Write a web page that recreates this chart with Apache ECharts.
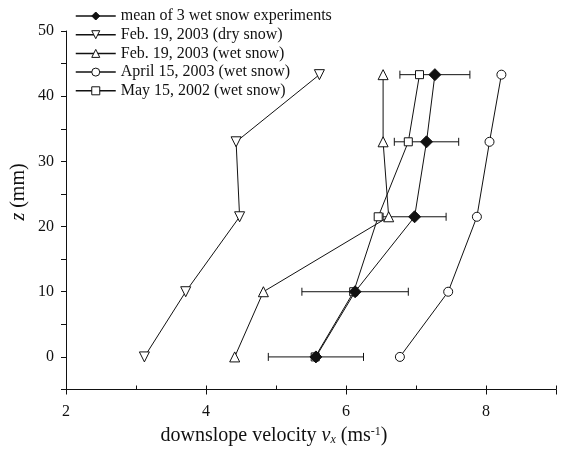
<!DOCTYPE html>
<html>
<head>
<meta charset="utf-8">
<script src="https://cdn.jsdelivr.net/npm/echarts@6/dist/echarts.min.js"></script>
<style>
  html, body { margin: 0; padding: 0; background: #fff; }
  #chart { width: 561px; height: 450px; }
</style>
</head>
<body>
<div id="chart"></div>
<script>
// heights above the bed (mm)
const zLevels = [0, 10, 21.5, 33, 43.3]
// downslope velocity (m/s) per experiment
const meanV = [5.57, 6.13, 6.98, 7.15, 7.27]
const meanErr = [0.68, 0.76, 0.45, 0.46, 0.5]
const febDry = [3.12, 3.71, 4.48, 4.43, 5.62]
const febWet = [4.41, 4.82, 6.61, 6.53, 6.53]
const aprilWet = [6.77, 7.46, 7.87, 8.05, 8.22]
const mayWet = [5.56, 6.11, 6.46, 6.89, 7.05]

const names = [
  'mean of 3 wet snow experiments',
  'Feb. 19, 2003 (dry snow)',
  'Feb. 19, 2003 (wet snow)',
  'April 15, 2003 (wet snow)',
  'May 15, 2002 (wet snow)'
]

const font = 'Liberation Serif'

function pairs (vals) {
  return vals.map((v, i) => [v, zLevels[i]])
}

const errData = meanV.map((v, i) => [v - meanErr[i], v + meanErr[i], zLevels[i]])

function lineSeries (name, vals, symbol, size, filled, rotate) {
  return {
    name: name,
    type: 'line',
    data: pairs(vals),
    symbol: symbol,
    symbolSize: size,
    symbolRotate: rotate || 0,
    showAllSymbol: true,
    z: filled ? 5 : 4,
    lineStyle: { color: '#111', width: 1 },
    itemStyle: { color: filled ? '#111' : '#fff', borderColor: '#111', borderWidth: 1 },
    emphasis: { disabled: true }
  }
}

const myChart = echarts.init(document.getElementById('chart'))
const option = {
  backgroundColor: '#fff',
  animation: false,
  grid: { left: 66, right: 5, top: 31, bottom: 60.5 },
  legend: {
    orient: 'vertical',
    left: 70,
    top: 3,
    itemWidth: 40,
    itemHeight: 10,
    itemGap: 2.7,
    data: names,
    lineStyle: { width: 1.5 },
    itemStyle: { borderWidth: 1 },
    textStyle: { fontFamily: font, fontSize: 16, lineHeight: 16, color: '#111' }
  },
  xAxis: [
    {
      type: 'value',
      min: 2,
      max: 9,
      interval: 2,
      splitLine: { show: false },
      axisLine: { onZero: false, lineStyle: { color: '#111', width: 1 } },
      axisTick: { inside: false, length: 5, lineStyle: { color: '#111' } },
      axisLabel: {
        fontFamily: font, fontSize: 16, color: '#111', margin: 14,
        formatter: v => (v % 2 === 0 ? String(v) : '')
      }
    },
    {
      type: 'value',
      min: 2,
      max: 9,
      interval: 1,
      position: 'bottom',
      splitLine: { show: false },
      axisLine: { show: false, onZero: false },
      axisTick: { inside: true, length: 4, lineStyle: { color: '#111' } },
      axisLabel: { show: false }
    }
  ],
  yAxis: {
    type: 'value',
    min: -5,
    max: 50,
    interval: 5,
    splitLine: { show: false },
    axisLine: { onZero: false, lineStyle: { color: '#111', width: 1 } },
    axisTick: { inside: false, length: 5, lineStyle: { color: '#111' } },
    axisLabel: {
      fontFamily: font, fontSize: 16, color: '#111', margin: 12,
      formatter: v => (v % 10 === 0 ? String(v) : '')
    }
  },
  graphic: [
    {
      type: 'text',
      x: 19,
      y: 192,
      rotation: Math.PI / 2,
      style: {
        text: '{i|z} (mm)',
        font: '20px ' + font,
        fill: '#111',
        align: 'center',
        verticalAlign: 'middle',
        rich: { i: { fontStyle: 'italic', fontFamily: font, fontSize: 20 } }
      }
    },
    {
      type: 'text',
      x: 274,
      y: 436,
      style: {
        text: 'downslope velocity {i|v}{sub|x} (ms{sup|-1})',
        font: '20px ' + font,
        fill: '#111',
        align: 'center',
        verticalAlign: 'middle',
        rich: {
          i: { fontStyle: 'italic', fontFamily: font, fontSize: 20 },
          sub: { fontStyle: 'italic', fontFamily: font, fontSize: 12, verticalAlign: 'bottom', padding: [8, 0, 0, 0] },
          sup: { fontFamily: font, fontSize: 12, verticalAlign: 'top', padding: [0, 0, 8, 0] }
        }
      }
    }
  ],
  series: [
    {
      name: 'errors',
      type: 'custom',
      data: errData,
      z: 3,
      silent: true,
      renderItem: function (params, api) {
        const a = api.coord([api.value(0), api.value(2)])
        const b = api.coord([api.value(1), api.value(2)])
        const cap = 4
        const st = { stroke: '#111', lineWidth: 1 }
        return {
          type: 'group',
          children: [
            { type: 'line', shape: { x1: a[0], y1: a[1], x2: b[0], y2: b[1] }, style: st },
            { type: 'line', shape: { x1: a[0], y1: a[1] - cap, x2: a[0], y2: a[1] + cap }, style: st },
            { type: 'line', shape: { x1: b[0], y1: b[1] - cap, x2: b[0], y2: b[1] + cap }, style: st }
          ]
        }
      }
    },
    lineSeries(names[1], febDry, 'triangle', 10, false, 180),
    lineSeries(names[2], febWet, 'triangle', 10, false, 0),
    lineSeries(names[3], aprilWet, 'circle', 9, false, 0),
    lineSeries(names[4], mayWet, 'rect', 8, false, 0),
    lineSeries(names[0], meanV, 'diamond', 12, true, 0)
  ]
}
option && myChart.setOption(option)
</script>
</body>
</html>
